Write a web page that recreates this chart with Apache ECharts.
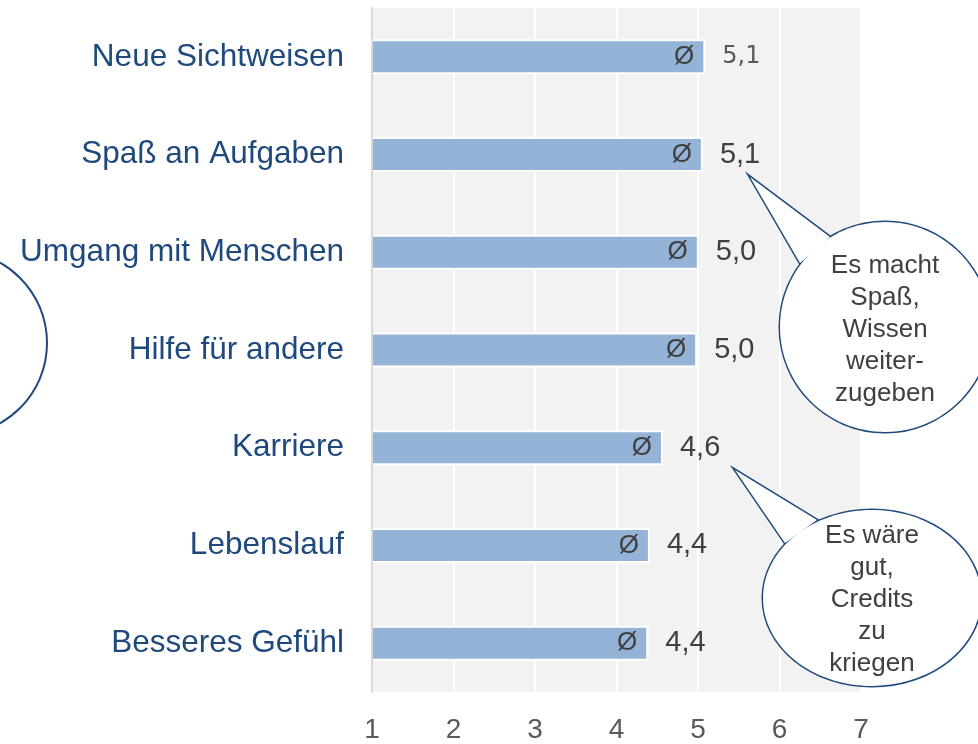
<!DOCTYPE html>
<html>
<head>
<meta charset="utf-8">
<script src="https://cdn.jsdelivr.net/npm/echarts@6/dist/echarts.min.js"></script>
<style>
  html, body { margin: 0; padding: 0; background: #fff; }
  #chart { width: 978px; height: 744px; }
</style>
</head>
<body>
<div id="chart"></div>
<script>
// categories top to bottom
const categories = ['Neue Sichtweisen', 'Spaß an Aufgaben', 'Umgang mit Menschen', 'Hilfe für andere', 'Karriere', 'Lebenslauf', 'Besseres Gefühl']
// mean ratings (scale 1..7)
const means = [5.09, 5.06, 5.01, 4.99, 4.57, 4.41, 4.39]
const xTicks = [1, 2, 3, 4, 5, 6, 7]

const bubbleOne = ['Es macht', 'Spaß,', 'Wissen', 'weiter-', 'zugeben']
const bubbleTwo = ['Es wäre', 'gut,', 'Credits', 'zu', 'kriegen']

const chart = echarts.init(document.getElementById('chart'))

const fmt = v => v.toFixed(1).replace('.', ',')

const valueData = means.map((v, i) => {
	// first label is drawn smaller in the original
	if (i === 0) {
		return { value: v, label: { fontFamily: 'DejaVu Sans', fontSize: 24, color: '#595959' } }
	}
	return v
})

// speech bubble = outlined ellipse + outlined tail, then white fill on top to hide the inner lines
function bubble(cx, cy, rx, ry, tail) {
	const stroke = { fill: '#fff', stroke: '#1f497d', lineWidth: 3 }
	const cover = { fill: '#fff', stroke: null }
	return [
		{ type: 'polygon', shape: { points: tail }, style: stroke, z: 10 },
		{ type: 'ellipse', shape: { cx, cy, rx, ry }, style: stroke, z: 10 },
		{ type: 'ellipse', shape: { cx, cy, rx, ry }, style: cover, z: 11 },
		{ type: 'polygon', shape: { points: tail }, style: cover, z: 11 }
	]
}

function bubbleText(x, y, lines) {
	return {
		type: 'text',
		x, y,
		style: {
			text: lines.join('\n'),
			fill: '#404040',
			font: '26px "Liberation Sans", Arial',
			lineHeight: 32,
			align: 'center',
			verticalAlign: 'middle'
		},
		z: 12
	}
}

const option = {
	backgroundColor: '#fff',
	animation: false,
	grid: {
		left: 372, right: 117, top: 8, bottom: 52,
		show: true, backgroundColor: '#f2f2f2', borderWidth: 0
	},
	xAxis: {
		type: 'value',
		min: xTicks[0],
		max: xTicks[xTicks.length - 1],
		interval: 1,
		axisLine: { show: false },
		axisTick: { show: false },
		splitLine: { show: true, lineStyle: { color: '#ffffff', width: 2 } },
		axisLabel: { color: '#595959', fontSize: 28, fontFamily: 'Liberation Sans, Arial', margin: 24 }
	},
	yAxis: {
		type: 'category',
		data: categories,
		inverse: true,
		z: 5,
		axisTick: { show: false },
		axisLine: { show: true, lineStyle: { color: '#d9d9d9', width: 2 } },
		axisLabel: { color: '#1f497d', fontSize: 31.5, fontFamily: 'Liberation Sans, Arial', margin: 28 }
	},
	series: [
		{
			type: 'bar',
			data: means,
			barWidth: 35,
			itemStyle: { color: '#95b3d7', borderColor: '#ffffff', borderWidth: 2 },
			label: {
				show: true,
				position: 'insideRight',
				distance: 11,
				formatter: 'Ø',
				color: '#404040',
				fontSize: 26,
				fontFamily: 'Liberation Sans, Arial'
			},
			z: 2
		},
		{
			type: 'bar',
			data: valueData,
			barWidth: 35,
			barGap: '-100%',
			itemStyle: { color: 'rgba(0,0,0,0)' },
			label: {
				show: true,
				position: 'right',
				distance: 17,
				formatter: p => fmt(p.value),
				color: '#404040',
				fontSize: 29,
				fontFamily: 'Liberation Sans, Arial'
			},
			z: 3
		}
	],
	graphic: [
		{
			type: 'ellipse',
			shape: { cx: -45, cy: 343, rx: 92, ry: 92 },
			style: { fill: '#fff', stroke: '#1f497d', lineWidth: 2 },
			z: 10
		},
		...bubble(885, 327, 105, 105, [[830, 237], [750, 177], [800, 263]]),
		bubbleText(885, 330, bubbleOne),
		...bubble(872, 598, 109, 88, [[817, 520], [735, 470], [785, 543]]),
		bubbleText(872, 600, bubbleTwo)
	]
}

chart.setOption(option)
</script>
</body>
</html>
